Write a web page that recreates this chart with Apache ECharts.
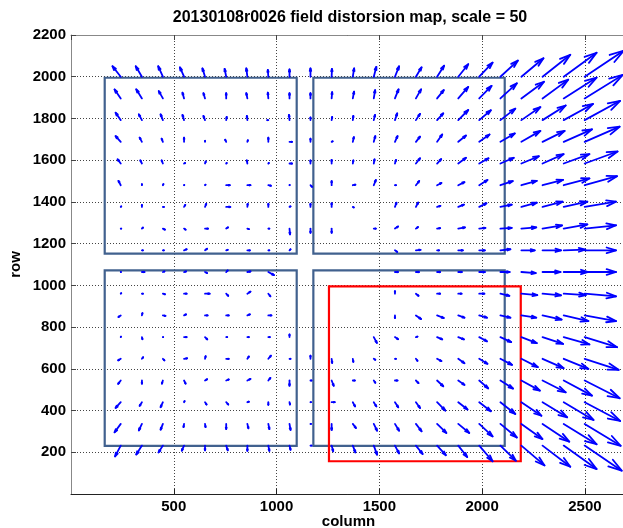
<!DOCTYPE html>
<html><head><meta charset="utf-8">
<script src="https://cdn.jsdelivr.net/npm/echarts@6/dist/echarts.min.js"></script>
<style>html,body{margin:0;padding:0;background:#fff}#c{width:623px;height:528px}</style>
</head><body><div id="c"></div>
<script>
// grid positions (CCD column / row of each measured point)
const colX = [242,345,447,550,652,755,858,960,1063,1165,1268,1371,1473,1576,1678,1781,1884,1986,2089,2191,2294,2397,2499];
const rowY = [2000,1896,1792,1688,1584,1480,1376,1272,1168,1064,960,856,752,648,544,440,336,232];
// displacement (pixels) per grid point, row by row; null = no measurement
const U = [
[-0.8,-0.6,-0.45,-0.4,-0.25,-0.15,-0.1,-0.05,0,0,0.03,0.13,0.25,0.4,0.55,0.68,0.97,1.3,1.7,2.15,2.7,3.2,3.8],
[-0.6,-0.55,-0.4,-0.15,-0.15,0,-0.1,-0.05,0,0,0.05,0.12,0.13,0.35,0.5,0.65,0.97,1.2,1.6,2.2,2.5,3.2,3.7],
[-0.5,-0.3,-0.22,-0.15,-0.15,0.05,-0.05,-0.1,-0.05,0,0.05,0.05,0.12,0.22,0.4,0.6,0.97,1.13,1.45,1.85,2.25,2.85,3.45],
[-0.5,-0.22,-0.12,0,0,-0.1,0.05,0,0.25,0,0.1,0.1,0.15,0.25,0.4,0.5,0.75,1.0,1.4,1.85,2.15,2.75,3.4],
[-0.3,-0.15,-0.12,0.1,0.07,0.05,-0.05,0.05,0.25,0,0,0.05,0.07,0.1,0.4,0.4,0.75,0.9,1.3,1.7,2.05,2.5,3.2],
[-0.22,0,0.05,0.02,0.05,0.35,0.3,0.25,0.02,0.15,0,0.25,0.2,0.1,0.32,0.42,0.6,0.8,1.2,1.5,2.0,2.5,3.15],
[0.05,0,0.1,0.12,0.12,0.4,0.03,0,0.1,0,0,0.1,null,0.15,0.22,0.32,0.55,0.7,1.1,1.5,1.95,2.3,3.05],
[0.05,0.1,0.2,0.15,0.3,0.18,0.15,0.1,0.05,0,0,null,0.2,0.3,0.2,0.3,0.65,0.6,1.1,1.45,1.9,2.3,3.05],
[null,0.1,0.1,0.25,0.2,0.15,0.25,0.1,0.1,null,null,null,null,0.22,0.45,0.2,0.45,0.55,0.97,1.3,1.8,2.1,3.05],
[0.02,0.25,0.15,0.2,0.2,0.15,0.3,0.55,null,null,null,null,null,0.3,0.3,0.3,0.35,0.55,0.9,1.4,1.75,2.4,3.05],
[0.05,0.1,0.2,0.25,0.45,0.2,0.3,0.2,null,null,null,null,null,0,0.25,0.3,0.32,0.5,0.87,1.55,1.8,2.15,3.05],
[-0.22,0.05,0.25,0.2,0.25,0.25,0.25,0.3,null,null,null,null,null,0,0.5,0.65,0.6,0.75,0.97,1.45,1.85,2.4,3.05],
[0.02,0.05,0.03,0.25,0.22,0.1,0.15,0.15,0,null,null,null,0.3,0.3,0.15,0.5,0.55,0.75,1.05,1.5,2.0,2.5,3.15],
[-0.25,0.12,0.15,0.3,0.06,0.25,0.15,0.25,0.1,0,0.05,0.05,0.15,0.1,0.15,0.42,0.6,0.8,1.13,1.6,2.05,2.4,3.3],
[-0.25,0,-0.1,0.15,0.2,0.25,0.3,0.2,0,0.1,0.2,0.2,0.15,0.25,0.25,0.6,0.6,0.87,1.23,1.8,2.25,2.75,3.4],
[-0.5,-0.22,-0.22,0.05,0.15,0.2,0.15,0,0.05,0.05,0.3,0.22,0.25,0.32,0.4,0.8,0.9,1.13,1.45,1.95,2.4,2.9,3.45],
[-0.6,-0.3,-0.22,-0.05,0.05,0,0.1,0.1,0.1,0.05,0,0.3,0.32,0.4,0.55,0.9,1.07,1.3,1.6,2.05,2.6,3.2,3.5],
[-0.55,-0.55,-0.42,-0.22,0,0.15,0,0.1,0.1,0.1,0.15,0.25,0.32,0.4,0.65,0.85,0.87,1.3,1.5,2.25,2.7,3.2,3.6]
];
const V = [
[1.0,1.0,1.0,0.9,0.8,0.75,0.8,0.65,0.7,0.8,0.75,0.8,0.95,1.0,0.9,1.06,1.2,1.35,1.55,1.77,2.1,2.3,2.5],
[0.85,0.87,0.7,0.55,0.5,0.5,0.5,0.55,0.5,0.5,0.6,0.65,0.8,0.87,0.87,0.8,1.1,1.2,1.45,1.6,1.8,2.0,2.25],
[0.7,0.55,0.55,0.5,0.4,0.3,0.4,0,0.5,0.25,0.3,0.4,0.5,0.65,0.6,0.65,0.97,0.95,1.1,1.25,1.4,1.55,1.85],
[0.55,0.4,0.3,0.4,0.1,0.2,0.15,0.4,0,0.3,0.05,0.45,0.55,0.55,0.5,0.7,0.6,0.7,0.8,1.05,1.05,1.2,1.45],
[0.4,0.3,0.3,0.05,0.2,0.05,0.3,0.05,0,0.3,0.35,0.3,0.4,0.35,0.5,0.42,0.55,0.5,0.55,0.7,0.9,0.9,1.15],
[0.42,0.1,0.1,0.02,0.05,0,0,-0.05,0.02,-0.15,0.4,0.05,0.5,0,0.4,0.22,0.3,0.5,0.4,0.42,0.52,0.65,0.87],
[0.05,0.2,0,0.2,0.3,0,0.3,0.3,0.05,0.3,0.35,-0.05,null,0.4,0.42,0.1,0.22,0.35,0.22,0.4,0.5,0.5,0.5],
[0,0.1,-0.1,-0.1,0,0.12,-0.05,0,-0.55,-0.4,-0.4,null,0,0.2,0.15,0.05,0.12,0.07,0.07,0.12,0.3,0.4,0.32],
[null,0,0,0.1,0.15,0.05,0,0,0.1,null,null,null,null,-0.15,0.05,0,0,0,0.1,0,0,0.07,0],
[0,0,0.05,0.05,-0.1,0.15,0.05,-0.3,null,null,null,null,null,0,0,0,0,0,0,-0.1,0,0,0],
[0.05,0,-0.05,0,0,-0.2,0.2,-0.25,null,null,null,null,null,0.25,-0.2,0,0,0,-0.2,-0.13,-0.15,-0.13,-0.25],
[-0.15,0.22,-0.05,0.1,0,0,0.1,0,null,null,null,null,null,-0.25,-0.35,-0.25,-0.22,-0.22,-0.22,-0.22,-0.4,-0.55,-0.55],
[0.05,-0.2,0,0,-0.22,0,0,0,0.25,null,null,null,-0.55,-0.2,0.05,-0.22,-0.22,-0.4,-0.48,-0.58,-0.65,-0.7,-0.97],
[-0.15,0.15,-0.15,0.05,0.25,0,0.22,0.3,0,0.3,-0.4,-0.3,-0.1,0,-0.2,-0.22,-0.42,-0.48,-0.58,-0.8,-0.9,-0.97,-1.06],
[-0.32,-0.3,-0.3,-0.3,0.12,0.1,0.15,0.25,-0.5,0,-0.5,0,-0.22,0,-0.25,-0.55,-0.42,-0.75,-0.77,-0.97,-1.13,-1.45,-1.7],
[-0.55,-0.35,-0.48,0.1,-0.22,-0.22,0.05,-0.25,-0.22,0,0,-0.4,-0.4,-0.48,-0.55,-0.8,-0.7,-0.87,-1.13,-1.3,-1.45,-1.7,-1.8],
[-0.8,-0.62,-0.55,-0.3,-0.3,-0.5,-0.42,-0.5,-0.58,0,-0.58,-0.4,-0.65,-0.65,-0.7,-0.87,-0.87,-1.2,-1.3,-1.45,-1.7,-1.95,-2.1],
[-1.03,-0.85,-0.65,-0.48,-0.45,-0.45,-0.5,-0.5,-0.4,0,-0.55,-0.65,-0.87,-0.75,-0.8,-0.92,-1.1,-1.5,-1.45,-1.9,-2.03,-2.25,-2.4]
];
const SCALE = 50;
// CCD outlines [x1, y1, x2, y2]
const chipRects = [[164,1152,1098,1995],[1179,1152,2110,1995],[164,231,1098,1072],[1179,231,2110,1072]];
const redRect = [[1255,157,2188,995]];
const titleText = '20130108r0026 field distorsion map, scale = 50';

const arrows = [];
rowY.forEach((y, j) => colX.forEach((x, i) => {
  if (U[j][i] !== null) arrows.push([x, y, U[j][i], V[j][i]]);
}));

const FONT = '"Liberation Sans", Arial, Helvetica, sans-serif';
const BLUE = '#0000ff';

function arrowItem(params, api) {
  const x = api.value(0), y = api.value(1);
  const u = api.value(2) * SCALE, v = api.value(3) * SCALE;
  const p0 = api.coord([x, y]), p1 = api.coord([x + u, y + v]);
  const dx = p1[0] - p0[0], dy = p1[1] - p0[1];
  const a = 0.3, b = 0.3;
  const h1 = [p1[0] - a * (dx + b * dy), p1[1] - a * (dy - b * dx)];
  const h2 = [p1[0] - a * (dx - b * dy), p1[1] - a * (dy + b * dx)];
  return { type: 'group', children: [
    { type: 'line', shape: { x1: p0[0], y1: p0[1], x2: p1[0], y2: p1[1] },
      style: { stroke: BLUE, lineWidth: 1.8, lineCap: 'round' } },
    { type: 'polyline', shape: { points: [h1, p1, h2] },
      style: { stroke: BLUE, lineWidth: 1.8, fill: null, lineJoin: 'round', lineCap: 'round' } }
  ]};
}
function rectItem(color, w) {
  return function (params, api) {
    const a = api.coord([api.value(0), api.value(3)]);
    const c = api.coord([api.value(2), api.value(1)]);
    return { type: 'rect', shape: { x: a[0], y: a[1], width: c[0] - a[0], height: c[1] - a[1] },
      style: { stroke: color, lineWidth: w, fill: null } };
  };
}

const chart = echarts.init(document.getElementById('c'), null, { renderer: 'canvas' });
const labelStyle = { fontFamily: FONT, fontWeight: 'bold', fontSize: 15, color: '#000' };
const splitLine = { show: true, lineStyle: { type: [1, 2], color: '#444', width: 1 } };
chart.setOption({
  animation: false,
  backgroundColor: '#fff',
  grid: { left: 71, right: -3, top: 35, bottom: 34, containLabel: false, outerBoundsMode: 'none' },
  graphic: [
    { type: 'text', x: 350, y: 18, style: { text: titleText, fill: '#000',
      font: 'bold 16px ' + FONT, textAlign: 'center', textVerticalAlign: 'middle' } }
  ],
  xAxis: [{
    type: 'value', min: 0, max: 2700, interval: 500, position: 'bottom',
    name: 'column', nameLocation: 'middle', nameGap: 20, nameMoveOverlap: false,
    nameTextStyle: Object.assign({ verticalAlign: 'top', lineHeight: 15 }, labelStyle),
    axisLine: { show: true, lineStyle: { color: '#222', width: 1 } },
    axisTick: { show: true, inside: true, length: 5, lineStyle: { color: '#222' } },
    axisLabel: Object.assign({ margin: 5, showMinLabel: false, showMaxLabel: false,
      formatter: v => (v % 500 === 0 && v > 0 ? String(v) : '') }, labelStyle),
    splitLine: splitLine
  }, {
    type: 'value', min: 0, max: 2700, interval: 500, position: 'top',
    axisLine: { show: true, lineStyle: { color: '#888', width: 1 } },
    axisTick: { show: true, inside: true, length: 5, lineStyle: { color: '#444' } },
    axisLabel: { show: false }, splitLine: { show: false }
  }],
  yAxis: [{
    type: 'value', min: 0, max: 2200, interval: 200,
    name: 'row', nameLocation: 'middle', nameGap: 48, nameRotate: 90, nameMoveOverlap: false,
    nameTextStyle: labelStyle,
    axisLine: { show: true, lineStyle: { color: '#888', width: 1 } },
    axisTick: { show: true, inside: true, length: 5, lineStyle: { color: '#444' } },
    axisLabel: Object.assign({ margin: 5, showMinLabel: false, formatter: v => String(v) }, labelStyle),
    splitLine: splitLine
  }],
  series: [
    { type: 'custom', name: 'chips', data: chipRects, renderItem: rectItem('#41618e', 2.2), z: 3 },
    { type: 'custom', name: 'red', data: redRect, renderItem: rectItem('#ff0000', 2.2), z: 4 },
    { type: 'custom', name: 'distortion', data: arrows, renderItem: arrowItem, z: 5 }
  ]
});
</script></body></html>
